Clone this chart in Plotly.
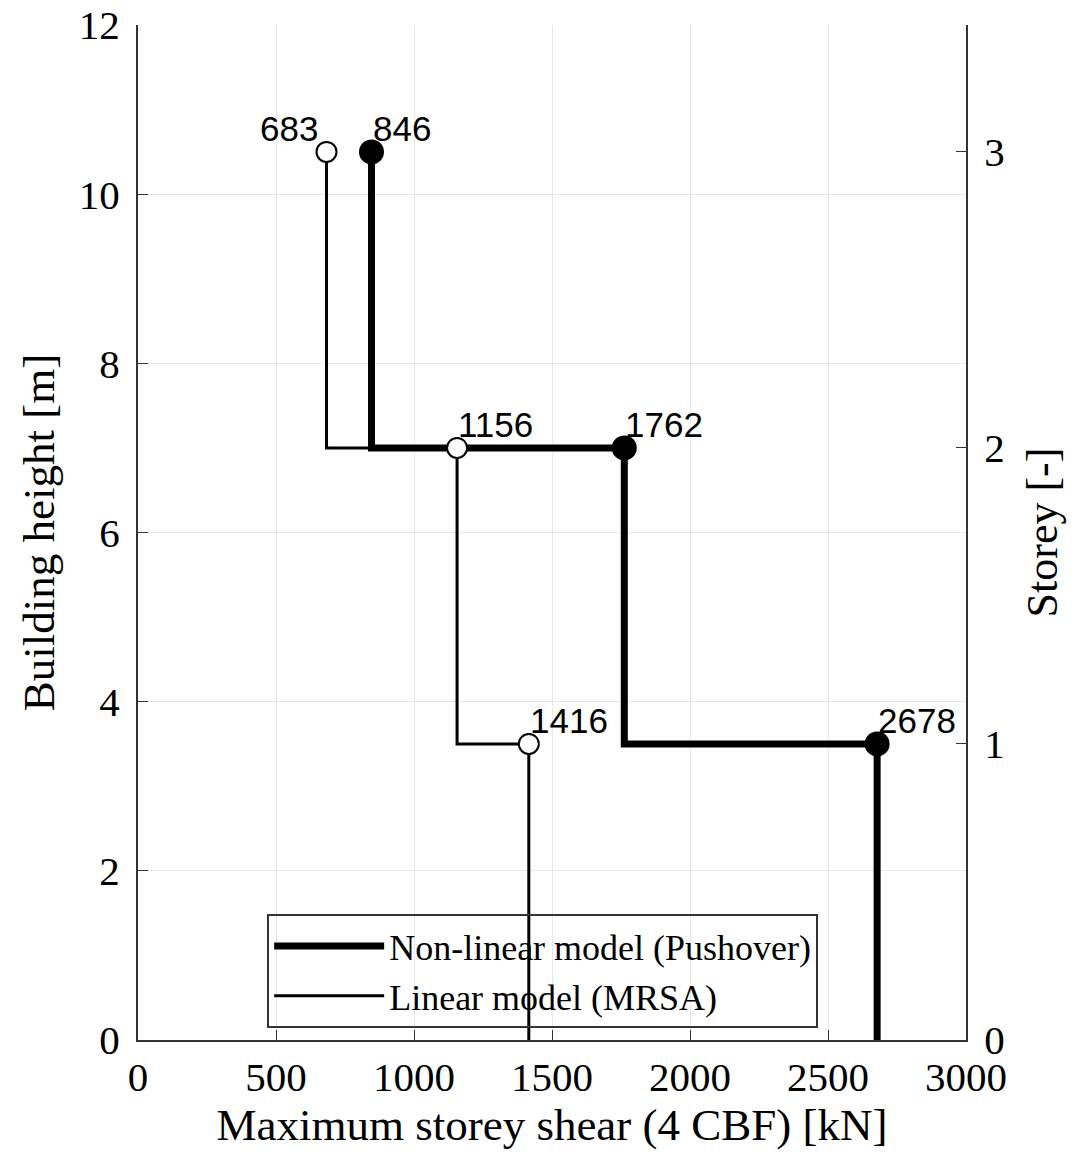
import plotly.graph_objects as go

# Data
storey_levels = [0, 1, 2, 3]
storey_heights = [0.0, 3.5, 7.0, 10.5]           # m
pushover_shear = [2678, 1762, 846]              # kN, storeys 1..3
mrsa_shear = [1416, 1156, 683]                  # kN, storeys 1..3
pushover_name = "Non-linear model (Pushover)"
mrsa_name = "Linear model (MRSA)"


def step_profile(shear, heights):
    xs, ys = [], []
    top = len(shear)
    for i in range(top - 1, -1, -1):
        xs += [shear[i], shear[i]]
        ys += [heights[i + 1], heights[i]]
    return xs, ys


SERIF = "Liberation Serif, Times New Roman, serif"
SANS = "Liberation Sans, Arial, sans-serif"

fig = go.Figure()

px, py = step_profile(pushover_shear, storey_heights)
mx, my = step_profile(mrsa_shear, storey_heights)

fig.add_trace(go.Scatter(x=px, y=py, mode="lines", name=pushover_name,
                         line=dict(color="black", width=7)))
fig.add_trace(go.Scatter(x=mx, y=my, mode="lines", name=mrsa_name,
                         line=dict(color="black", width=3)))
fig.add_trace(go.Scatter(x=mrsa_shear, y=storey_heights[1:], mode="markers",
                         showlegend=False,
                         marker=dict(symbol="circle", size=20, color="white",
                                     line=dict(color="black", width=2))))
fig.add_trace(go.Scatter(x=pushover_shear, y=storey_heights[1:], mode="markers",
                         showlegend=False,
                         marker=dict(symbol="circle", size=25, color="black")))
# invisible trace to activate right axis
fig.add_trace(go.Scatter(x=[None], y=[None], yaxis="y2", showlegend=False))

for xv, yv in zip(pushover_shear, storey_heights[1:]):
    fig.add_annotation(x=xv, y=yv, text=str(xv), showarrow=False,
                       xanchor="left", yanchor="bottom", xshift=-1, yshift=2,
                       font=dict(family=SANS, size=35, color="black"))
for xv, yv in zip(mrsa_shear, storey_heights[1:]):
    left = xv == min(mrsa_shear)
    fig.add_annotation(x=xv, y=yv, text=str(xv), showarrow=False,
                       xanchor="right" if left else "left", yanchor="bottom",
                       xshift=-7 if left else -1, yshift=2,
                       font=dict(family=SANS, size=35, color="black"))

fig.update_layout(
    width=1075, height=1157,
    margin=dict(l=138, r=109, t=25, b=117),
    paper_bgcolor="white", plot_bgcolor="white",
    font=dict(family=SERIF, color="black"),
    xaxis=dict(range=[0, 3000], tickvals=[0, 500, 1000, 1500, 2000, 2500, 3000],
               automargin=False, ticklabeloverflow="allow",
               showgrid=True, gridcolor="#e8e8e8", gridwidth=1,
               showline=True, linecolor="#333", linewidth=2,
               ticks="inside", ticklen=10, tickcolor="#333",
               tickfont=dict(family=SERIF, size=41), zeroline=False,
               title=dict(text="Maximum storey shear (4 CBF) [kN]",
                          font=dict(family=SERIF, size=45), standoff=8)),
    yaxis=dict(range=[0, 12], tickvals=[0, 2, 4, 6, 8, 10, 12],
               automargin=False, ticklabeloverflow="allow",
               showgrid=True, gridcolor="#e8e8e8", gridwidth=1,
               showline=True, linecolor="#333", linewidth=2,
               ticks="inside", ticklen=10, tickcolor="#333",
               tickfont=dict(family=SERIF, size=41), zeroline=False,
               ticklabelstandoff=8,
               title=dict(text="Building height [m]",
                          font=dict(family=SERIF, size=45), standoff=10)),
    yaxis2=dict(overlaying="y", side="right", automargin=False,
                ticklabeloverflow="allow",
                range=[0, 12 / storey_heights[1]], tickvals=storey_levels,
                showgrid=False, showline=True, linecolor="#333", linewidth=2,
                ticks="inside", ticklen=10, tickcolor="#333",
                tickfont=dict(family=SERIF, size=41), zeroline=False,
                ticklabelstandoff=8,
                title=dict(text="Storey [-]",
                           font=dict(family=SERIF, size=44), standoff=22)),
    legend=dict(x=0.156, y=0.124, xanchor="left", yanchor="top",
                bgcolor="rgba(255,255,255,0)", bordercolor="#333", borderwidth=2,
                font=dict(family=SERIF, size=36), itemwidth=110,
                tracegroupgap=0),
    showlegend=True,
)

fig.write_html(
    "out.html",
    config={"displayModeBar": False},
    post_script="document.body.style.margin='0';document.body.style.overflow='hidden';",
)
